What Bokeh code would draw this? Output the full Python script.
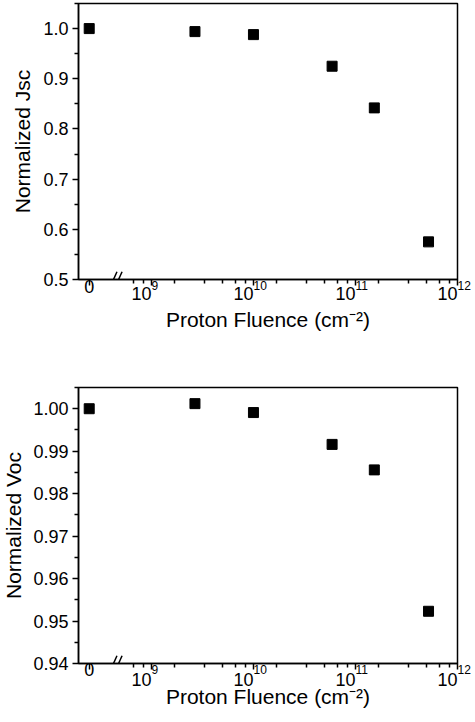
from bokeh.plotting import figure
from bokeh.layouts import column
from bokeh.models import (Range1d, FixedTicker, CustomJSTickFormatter, NumeralTickFormatter,
                          LogAxis, Title)
from bokeh.embed import file_html
from bokeh.resources import INLINE

# ---- data ----
fluence = [0, 2.67e9, 1.0e10, 5.9e10, 1.53e11, 5.2e11]          # cm^-2 (0 = unirradiated)
jsc_norm = [1.000, 0.994, 0.988, 0.925, 0.842, 0.575]
voc_norm = [1.0000, 1.0012, 0.9991, 0.9916, 0.9856, 0.9523]

x_tick_values = [0, 1e9, 1e10, 1e11, 1e12]
x_tick_bases = ["0", "10", "10", "10", "10"]
x_tick_exps = ["", "9", "10", "11", "12"]
jsc_ticks = [0.5, 0.6, 0.7, 0.8, 0.9, 1.0]
voc_ticks = [0.94, 0.95, 0.96, 0.97, 0.98, 0.99, 1.00]

x_title = "Proton Fluence (cm⁻²)"
jsc_title = "Normalized Jsc"
voc_title = "Normalized Voc"

# ---- broken-axis layout constants ----
ZERO_POS = 10 ** 8.39      # where the "0" fluence is drawn, left of the axis break
X_MIN, X_MAX = 10 ** 8.285, 1e12
BREAK_POS = [10 ** 8.64, 10 ** 8.69]
FONT = "Liberation Sans"
SHIFT = 30                 # page is shifted left so the wide left border fits

NEAREST = """
let best = 0, bd = Infinity;
for (let i = 0; i < vals.length; i++) {
  const d = Math.abs(Math.log10(tick) - Math.log10(vals[i]));
  if (d < bd) { bd = d; best = i; }
}
return labels[best];
"""


def xpos(f):
    return ZERO_POS if f == 0 else f


x_major = [xpos(v) for v in x_tick_values]
x_minor = [k * 10 / 6 * 10 ** n for n in range(8, 12) for k in range(1, 6)]
x_minor = [v for v in x_minor if v > 10 ** 8.75]


def style_axis(ax, size):
    ax.axis_line_width = 1.5
    ax.axis_line_color = "black"
    ax.major_tick_line_width = 1.5
    ax.minor_tick_line_width = 1.5
    ax.major_tick_line_color = "black"
    ax.minor_tick_line_color = "black"
    ax.major_tick_out = 6
    ax.major_tick_in = 0
    ax.minor_tick_out = 4
    ax.minor_tick_in = 0
    ax.major_label_text_font = FONT
    ax.major_label_text_font_size = size
    ax.major_label_text_color = "black"
    ax.axis_label_text_font = FONT
    ax.axis_label_text_font_size = "21px"
    ax.axis_label_text_font_style = "normal"
    ax.axis_label_text_color = "black"


def label_axis(p, vals, labels, size, standoff, orientation):
    ax = LogAxis(ticker=FixedTicker(ticks=vals, minor_ticks=[]),
                 formatter=CustomJSTickFormatter(args=dict(vals=vals, labels=labels), code=NEAREST))
    style_axis(ax, size)
    ax.axis_line_color = None
    ax.major_tick_line_color = None
    ax.minor_tick_line_color = None
    ax.major_tick_out = 0
    ax.minor_tick_out = 0
    ax.major_label_standoff = standoff
    ax.major_label_orientation = orientation
    p.add_layout(ax, "below")
    return ax


def panel(yvals, yticks, y0, y1, ytitle, fmt, height, mb_top, mb_bottom,
          stand, title_offset, title_standoff):
    p = figure(width=475 + SHIFT, height=height, x_axis_type="log",
               x_range=Range1d(X_MIN, X_MAX), y_range=Range1d(y0, y1),
               output_backend="svg", toolbar_location=None,
               min_border_left=78 + SHIFT, min_border_right=18,
               min_border_top=mb_top, min_border_bottom=mb_bottom)
    p.grid.visible = False
    p.outline_line_color = "black"
    p.outline_line_width = 1.5
    p.background_fill_color = "white"
    p.border_fill_color = "white"

    step = yticks[1] - yticks[0]
    y_minor = [round(t + step / 2, 4) for t in yticks]

    # main x axis: line and ticks only
    style_axis(p.xaxis[0], "1px")
    p.xaxis.ticker = FixedTicker(ticks=x_major, minor_ticks=x_minor)
    p.xaxis.formatter = CustomJSTickFormatter(code="return '';")
    p.xaxis.major_label_standoff = 0

    s_sup, s_zero, s_ten, s_title = stand
    sup_vals = [v for v, e in zip(x_tick_values, x_tick_exps) if e]
    sup_labels = [e for e in x_tick_exps if e]
    ten_labels = [b for b, e in zip(x_tick_bases, x_tick_exps) if e]
    zero_vals = [xpos(v) for v, e in zip(x_tick_values, x_tick_exps) if not e]
    zero_labels = [b for b, e in zip(x_tick_bases, x_tick_exps) if not e]
    label_axis(p, sup_vals, sup_labels, "12px", s_sup, -0.0001)
    label_axis(p, zero_vals, zero_labels, "18px", s_zero, "horizontal")
    ten_ax = label_axis(p, sup_vals, ten_labels, "18px", s_ten, 0.0001)
    ten_ax.axis_label = x_title
    ten_ax.axis_label_standoff = s_title

    style_axis(p.yaxis[0], "18px")
    p.yaxis.ticker = FixedTicker(ticks=yticks, minor_ticks=y_minor)
    p.yaxis.formatter = NumeralTickFormatter(format=fmt)
    p.yaxis.major_label_standoff = 4

    p.add_layout(Title(text=ytitle, align="center", offset=title_offset,
                       standoff=title_standoff,
                       text_font=FONT, text_font_size="21px", text_font_style="normal",
                       text_color="black"), "left")

    p.scatter([xpos(f) for f in fluence], yvals, marker="square", size=10,
              fill_color="black", line_color="black")

    off = (y1 - y0) * 0.010
    p.scatter(BREAK_POS, [y0 + off] * len(BREAK_POS), marker="dash", angle=1.15,
              size=11, line_color="black", line_width=1.5)
    return p


p1 = panel(jsc_norm, jsc_ticks, 0.5, 1.05, jsc_title, "0.0", 340, 3, 61,
           (0, -18, -4, -2), -14, 13)
p2 = panel(voc_norm, voc_ticks, 0.94, 1.005, voc_title, "0.00", 373, 47, 50,
           (0, -19, -2, -11), -13, 11)

layout = column(p1, p2, margin=(0, 0, 0, -SHIFT))
open("out.html", "w").write(file_html(layout, INLINE))
